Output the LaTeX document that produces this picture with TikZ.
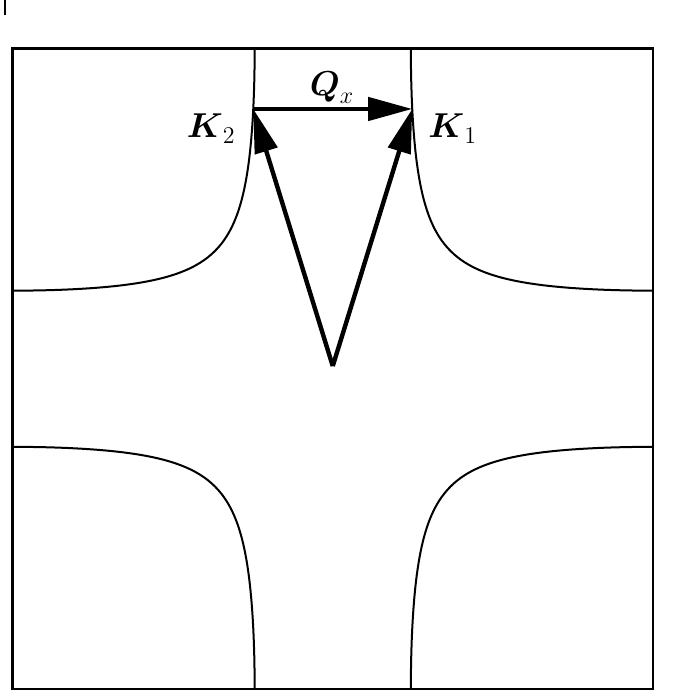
\documentclass[tikz,border=0pt]{standalone}
\usepackage{amsmath}
\usetikzlibrary{arrows.meta}
\begin{document}
\begin{tikzpicture}[x=0.5pt,y=-0.5pt,
  frame/.style={line width=1.3pt},
  fsline/.style={line width=1pt},
  vec/.style={line width=2.2pt,-{Triangle[length=22pt,width=11.5pt]}},
  lbl/.style={font=\LARGE, inner sep=0pt},
  declare function={fu(\t)=acos((0.6069-cos(\t))/(1-1.2296*cos(\t)));}]
\useasboundingbox (0,0) rectangle (681,694);
\draw[line width=1pt] (5,0) -- (5,15);
\draw[frame] (12.5,48.5) rectangle (653,689);
\coordinate (C) at (332.75,368.75);
\begin{scope}[shift={(C)},x=0.889583pt,y=0.889583pt]
  \foreach \sx/\sy in {-1/1,1/1,-1/-1,1/-1}{
    \draw[fsline] plot[domain=180:66.2,samples=60] ({\sx*fu(\x)},{\sy*\x})
      -- plot[domain=66.2:180,samples=60] ({\sx*\x},{\sy*fu(\x)});
  }
  \coordinate (K1) at ({fu(146)},146);
  \coordinate (K2) at ({-fu(146)},146);
  \coordinate (O) at (0,1.5);
\end{scope}
\draw[vec] (K2) -- (K1);
\draw[vec] (O) -- (K1);
\draw[vec] (O) -- (K2);
\node[lbl, anchor=base east] (K2lab) at (236,138) {$\boldsymbol{K}_2$};
\node[lbl, anchor=base west] (K1lab) at (428,138) {$\boldsymbol{K}_1$};
\node[lbl, anchor=base] (Qlab) at (332,96) {$\boldsymbol{Q}_x$};
\end{tikzpicture}
\end{document}
